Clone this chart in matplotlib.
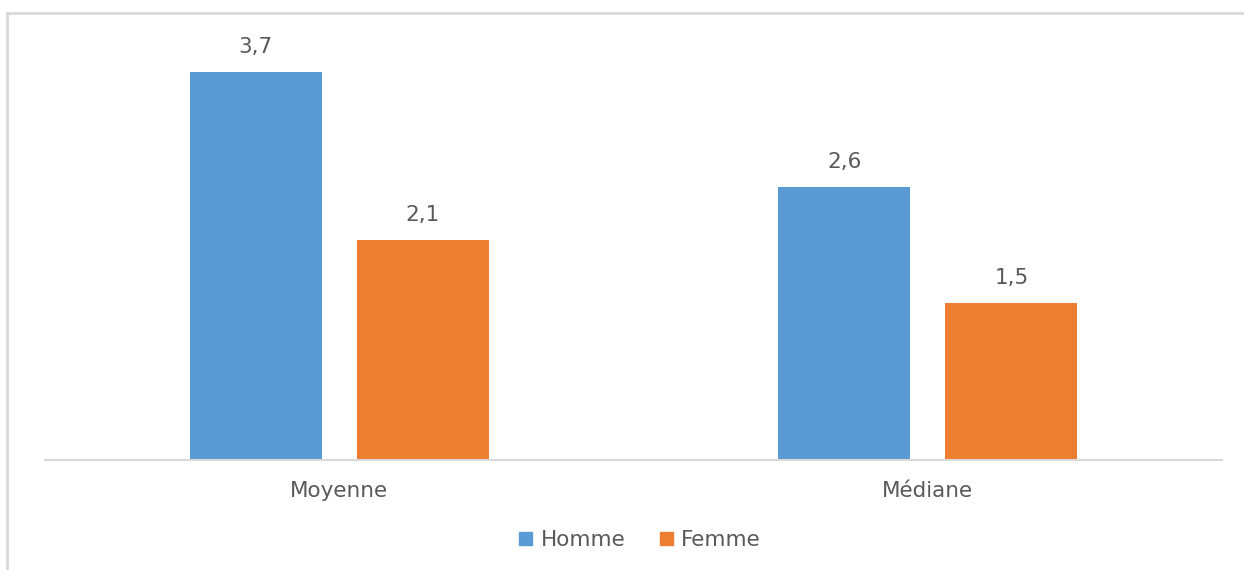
import matplotlib.pyplot as plt
from matplotlib.lines import Line2D
import numpy as np

categories = ["Moyenne", "Médiane"]
homme = [3.7, 2.6]
femme = [2.1, 1.5]
series_labels = ["Homme", "Femme"]

BLUE = "#5B9BD5"
ORANGE = "#ED7D31"
TEXT = "#595959"

plt.rcParams["font.family"] = ["DejaVu Sans"]
FS = 15.5

W, H = 1244, 570
fig = plt.figure(figsize=(W / 100, H / 100), dpi=100)
ax = fig.add_axes([45 / W, (H - 460) / H, (1222 - 45) / W, 440 / H])

x = np.arange(len(categories))
width = 0.224
offset = 0.142
b1 = ax.bar(x - offset, homme, width, color=BLUE, label=series_labels[0])
b2 = ax.bar(x + offset, femme, width, color=ORANGE, label=series_labels[1])

for bars, vals in ((b1, homme), (b2, femme)):
    for rect, v in zip(bars, vals):
        ax.annotate(f"{v:.1f}".replace(".", ","),
                    (rect.get_x() + rect.get_width() / 2, v),
                    xytext=(0, 18), textcoords="offset points",
                    ha="center", va="center", fontsize=FS, color=TEXT)

ax.set_xlim(-0.5, 1.5)
ax.set_ylim(0, 440 / 104.9)
ax.set_xticks(x)
ax.set_xticklabels(categories, fontsize=FS, color=TEXT)
ax.tick_params(axis="x", length=0, pad=15)
ax.set_yticks([])
for s in ("top", "right", "left"):
    ax.spines[s].set_visible(False)
ax.spines["bottom"].set_color("#D9D9D9")
ax.spines["bottom"].set_linewidth(1.5)

handles = [plt.Rectangle((0, 0), 1, 1, color=BLUE), plt.Rectangle((0, 0), 1, 1, color=ORANGE)]
fig.legend(handles, series_labels, loc="center", bbox_to_anchor=(640 / W, 1 - 540 / H),
           ncol=2, frameon=False, fontsize=FS, labelcolor=TEXT,
           handlelength=0.6, handleheight=0.6, handletextpad=0.4, columnspacing=1.6)

# outer chart frame (top and left edges visible)
fig.add_artist(Line2D([7 / W, 1], [1 - 13 / H, 1 - 13 / H], color="#D9D9D9", lw=2, transform=fig.transFigure))
fig.add_artist(Line2D([7 / W, 7 / W], [0, 1 - 13 / H], color="#D9D9D9", lw=2, transform=fig.transFigure))

fig.savefig("out.png", dpi=100)
